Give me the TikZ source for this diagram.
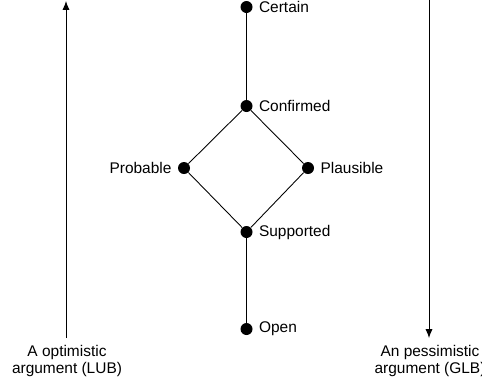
\documentclass[tikz,border=0pt]{standalone}
\usepackage{fontspec}
\setmainfont{Liberation Sans}
\usetikzlibrary{arrows.meta}

\begin{document}
\begin{tikzpicture}[
    x=0.02cm, y=-0.02cm,
    font=\fontsize{8.8}{9.4}\selectfont,
	grade/.style={
	  circle,
	  fill=black,
	  inner sep=0pt,
	  minimum size=0.24cm
	},
	bound/.style={
	  align=center,
	  inner sep=0pt,
	  anchor=north
	},
	line/.style={draw, line width=0.5pt},
	boundline/.style={draw, line width=0.5pt, -{Latex[length=5pt,width=4pt]}}
	]
	\useasboundingbox (0, 0) rectangle (482, 383);
	\node at (246.5, 7) [grade, label=right:Certain] (certain) {};
	\node at (246.5, 106) [grade, label=right:Confirmed] (confirmed) {};
	\node at (184, 168) [grade, label=left:Probable] (probable) {};
	\node at (308, 168) [grade, label=right:Plausible] (plausible) {};
	\node at (246.5, 232) [grade, label=right:Supported] (supported) {};
	\node at (246.5, 329) [grade, label=right:Open] (open) {};
	\node at (67, 345) [bound] (lub) {A optimistic\\argument (LUB)};
	\node at (430, 345) [bound] (glb) {An pessimistic\\argument (GLB)};
	\coordinate (lubtop) at (66, 1);
	\coordinate (lubfoot) at (66, 338);
	\coordinate (glbtop) at (429, -1);
	\coordinate (glbfoot) at (429, 338);
	\path[line] (certain) -- (confirmed);
	\path[line] (confirmed) -- (probable);
	\path[line] (confirmed) -- (plausible);
	\path[line] (probable) -- (supported);
	\path[line] (plausible) -- (supported);
	\path[line] (supported) -- (open);
	\path[boundline] (lubfoot) -- (lubtop);
	\path[boundline] (glbtop) -- (glbfoot);
\end{tikzpicture}
\end{document}
